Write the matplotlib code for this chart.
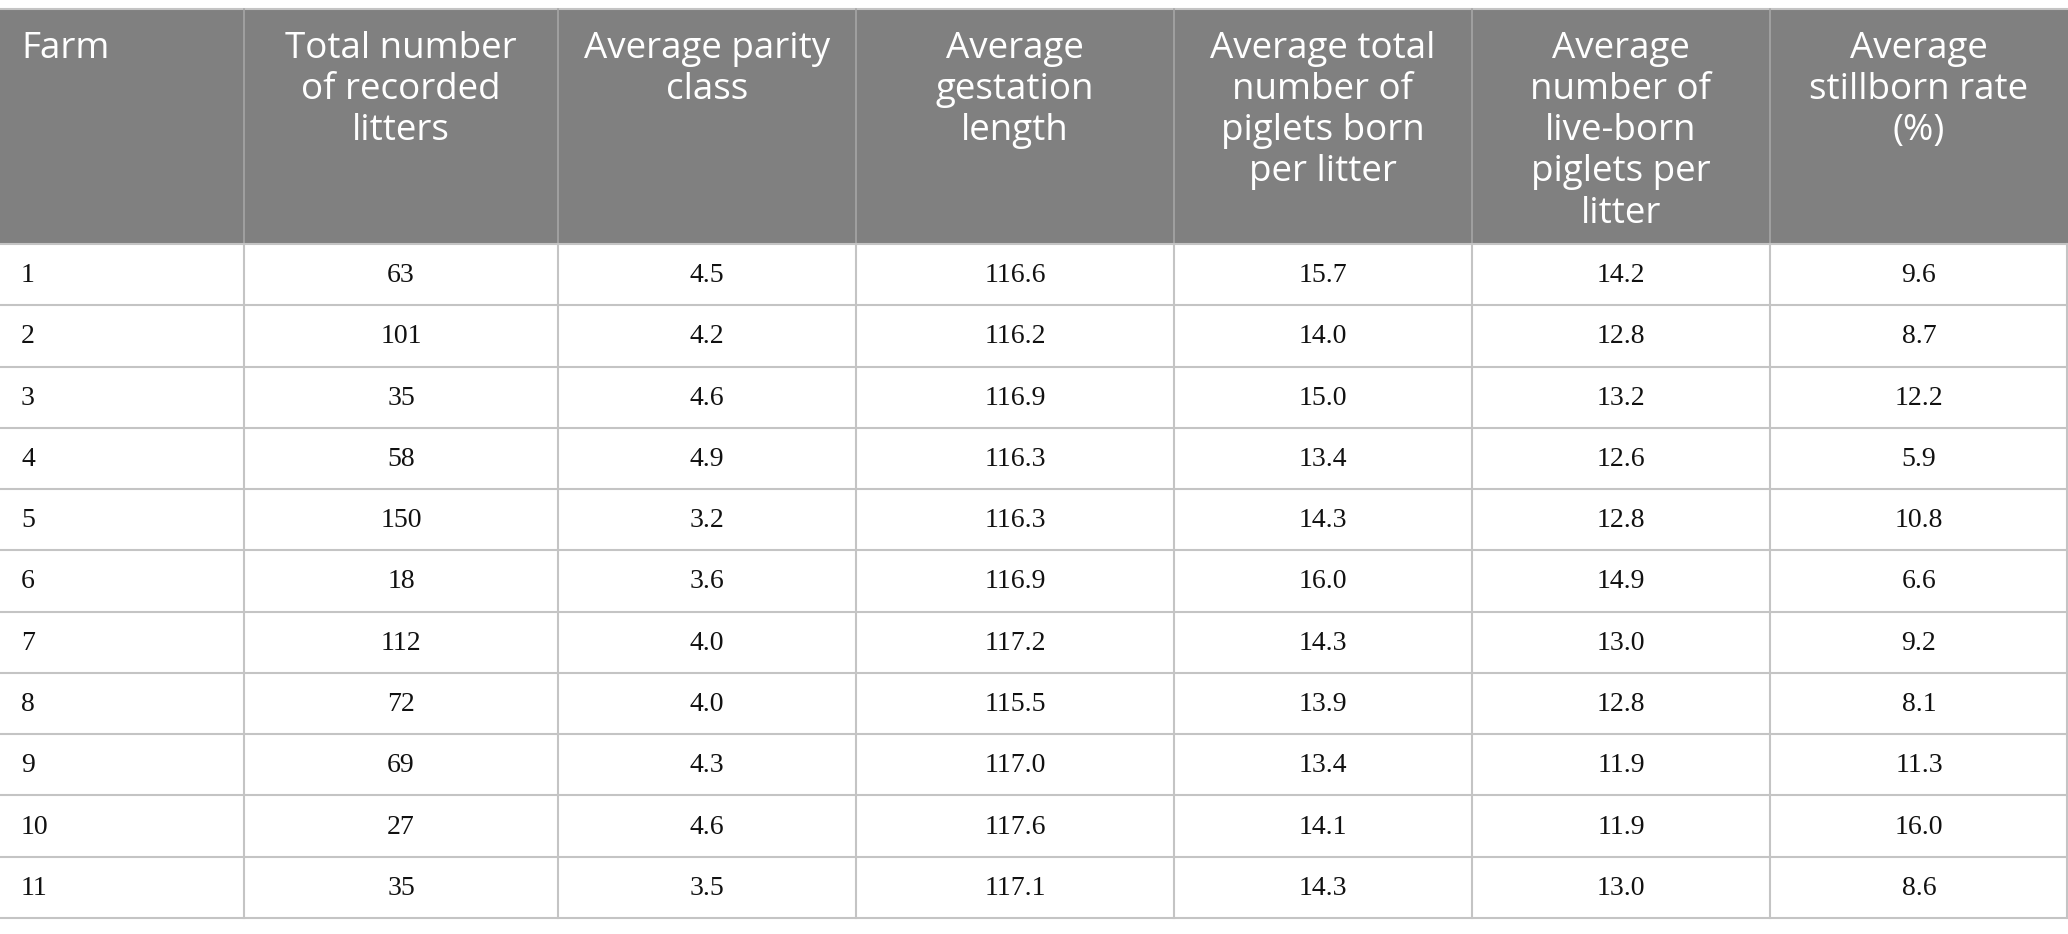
import matplotlib
matplotlib.use("Agg")
import matplotlib.pyplot as plt
from matplotlib.patches import Rectangle

headers = [
    "Farm",
    "Total number\nof recorded\nlitters",
    "Average parity\nclass",
    "Average\ngestation\nlength",
    "Average total\nnumber of\npiglets born\nper litter",
    "Average\nnumber of\nlive-born\npiglets per\nlitter",
    "Average\nstillborn rate\n(%)",
]
farms = ["1", "2", "3", "4", "5", "6", "7", "8", "9", "10", "11"]
litters = ["63", "101", "35", "58", "150", "18", "112", "72", "69", "27", "35"]
parity = ["4.5", "4.2", "4.6", "4.9", "3.2", "3.6", "4.0", "4.0", "4.3", "4.6", "3.5"]
gestation = ["116.6", "116.2", "116.9", "116.3", "116.3", "116.9", "117.2", "115.5", "117.0", "117.6", "117.1"]
total_born = ["15.7", "14.0", "15.0", "13.4", "14.3", "16.0", "14.3", "13.9", "13.4", "14.1", "14.3"]
live_born = ["14.2", "12.8", "13.2", "12.6", "12.8", "14.9", "13.0", "12.8", "11.9", "11.9", "13.0"]
stillborn = ["9.6", "8.7", "12.2", "5.9", "10.8", "6.6", "9.2", "8.1", "11.3", "16.0", "8.6"]

columns = [farms, litters, parity, gestation, total_born, live_born, stillborn]

W, H = 2068, 934
fig = plt.figure(figsize=(W / 100, H / 100), dpi=100)
ax = fig.add_axes([0, 0, 1, 1])
ax.set_xlim(0, W)
ax.set_ylim(H, 0)
ax.axis("off")

col_edges = [0, 244, 558, 856, 1174, 1472, 1770, 2068]
top = 9
header_bottom = 244
row_h = (918 - 244) / 11

header_color = "#808080"
grid_color = "#c4c4c4"
header_grid = "#a6a6a6"

ax.add_patch(Rectangle((0, top), W, header_bottom - top, facecolor=header_color, edgecolor="none"))
ax.plot([0, W], [top, top], color=grid_color, lw=1.5)

hfs = 26.5
hls = 1.19
htop = 31
for i, h in enumerate(headers):
    x0, x1 = col_edges[i], col_edges[i + 1]
    if i == 0:
        ax.text(x0 + 21, htop, h, ha="left", va="top", color="white",
                fontfamily="Open Sans", fontsize=hfs, linespacing=hls)
    else:
        ax.text((x0 + x1) / 2, htop, h, ha="center", va="top", color="white",
                fontfamily="Open Sans", fontsize=hfs, linespacing=hls,
                multialignment="center")
    if i > 0:
        ax.plot([x0, x0], [top, header_bottom], color=header_grid, lw=1.2)

n = len(farms)
for r in range(n):
    y0 = header_bottom + r * row_h
    yc = y0 + row_h / 2
    for c, col in enumerate(columns):
        x0, x1 = col_edges[c], col_edges[c + 1]
        if c == 0:
            ax.text(x0 + 21, yc + 1, col[r], ha="left", va="center",
                    fontfamily="Liberation Serif", fontsize=20, color="#111111")
        else:
            ax.text((x0 + x1) / 2, yc + 1, col[r], ha="center", va="center",
                    fontfamily="Liberation Serif", fontsize=20, color="#111111")

for r in range(n + 1):
    y = header_bottom + r * row_h
    ax.plot([0, W], [y, y], color=grid_color, lw=1.5)
for x in col_edges[1:-1]:
    ax.plot([x, x], [header_bottom, header_bottom + n * row_h], color=grid_color, lw=1.5)
ax.plot([W - 1, W - 1], [header_bottom, header_bottom + n * row_h], color=grid_color, lw=1.5)

fig.savefig("out.png", dpi=100, facecolor="white")
